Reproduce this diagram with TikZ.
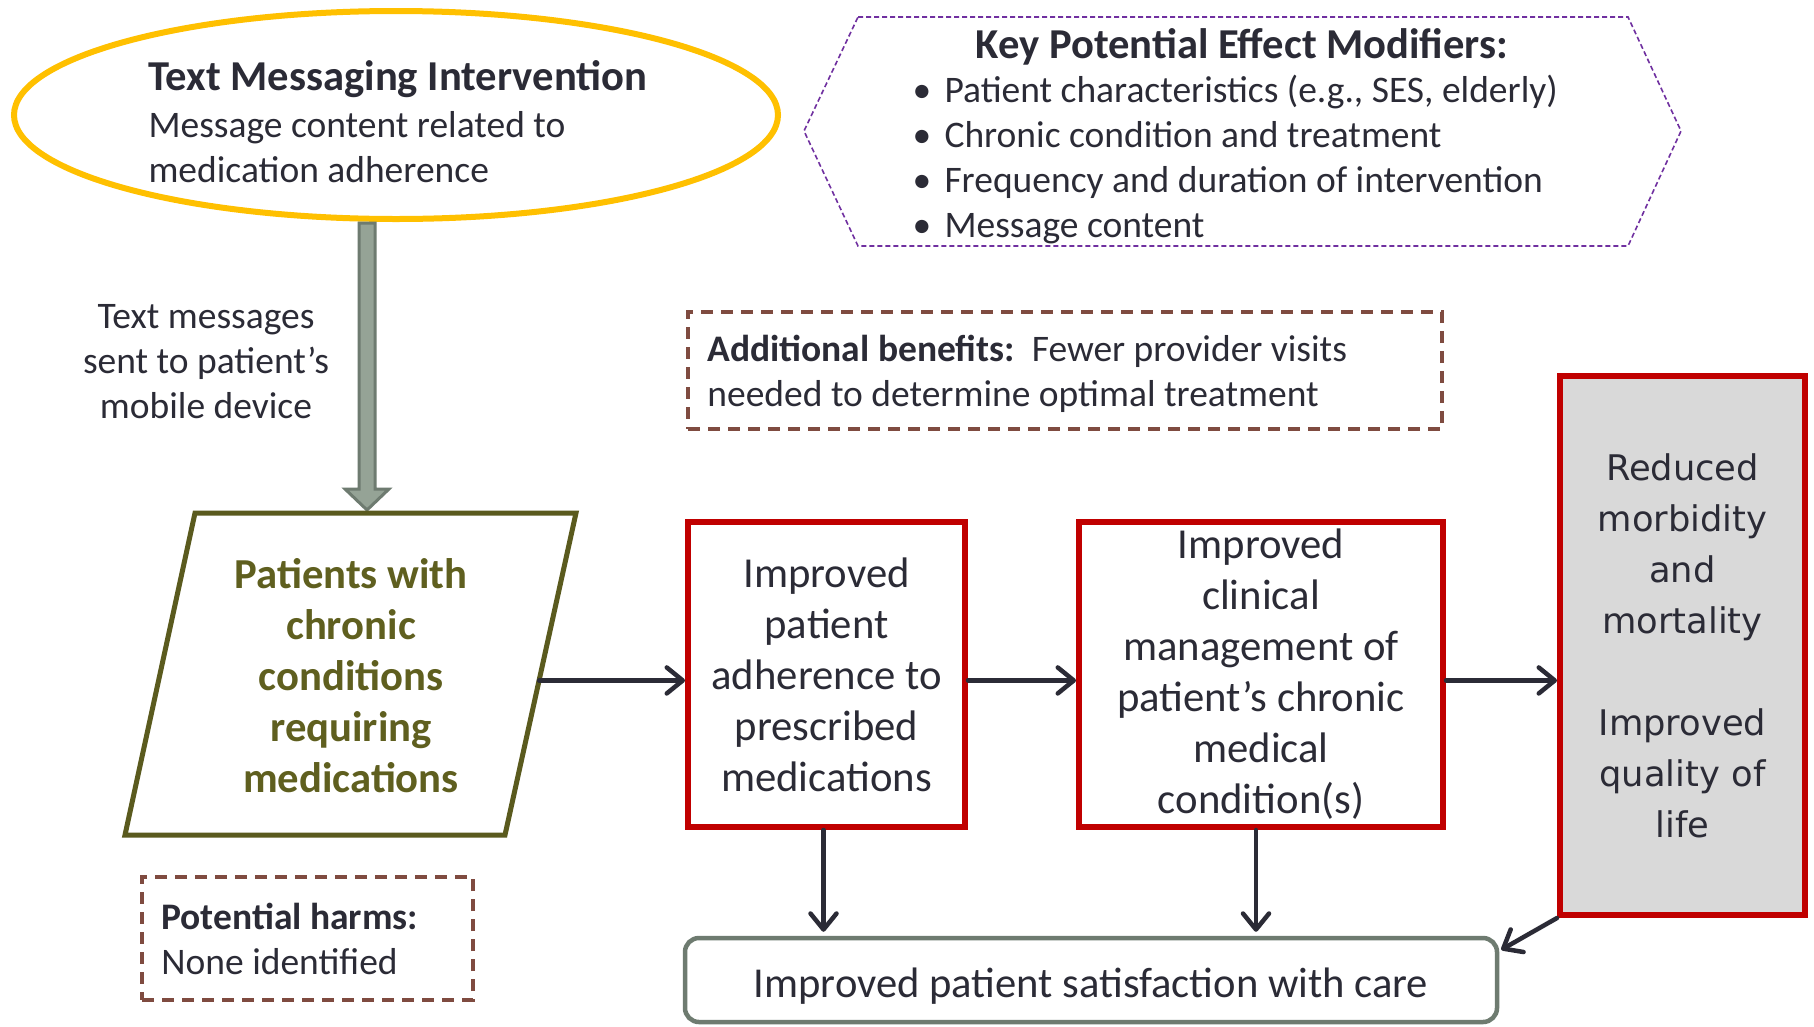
\documentclass[tikz,border=0pt]{standalone}
\usepackage{fontspec}
\setmainfont{Carlito}
\newfontfamily\dejavu{DejaVu Sans}
\usetikzlibrary{arrows.meta,shapes.geometric,calc}
\definecolor{txt}{HTML}{2B2B36}
\definecolor{redc}{HTML}{C00000}
\definecolor{yel}{HTML}{FFC000}
\definecolor{olive}{HTML}{5A5A1E}
\definecolor{olivetxt}{HTML}{5F5F1F}
\definecolor{purp}{HTML}{7030A0}
\definecolor{brown}{HTML}{7F4B40}
\definecolor{sage}{HTML}{6E7B70}
\definecolor{sagefill}{HTML}{95A396}
\definecolor{greyfill}{HTML}{D9D9D9}
\begin{document}
\begin{tikzpicture}[x=1pt,y=-1pt,
  flow/.style={draw=txt, line width=4.5pt, line cap=round, -{Straight Barb[length=16pt,width=26pt,line width=4.5pt,round]}},
  redbox/.style={draw=redc, line width=6pt, inner sep=0pt, align=center, text=txt},
  dashbox/.style={draw=brown, line width=3.5pt, dash pattern=on 12pt off 8pt, inner sep=0pt},
  plain/.style={text=txt, font=\fontsize{37.5}{45}\selectfont},
  big/.style={font=\fontsize{42.7}{51}\selectfont}]
\useasboundingbox[fill=white] (0,0) rectangle (1814,1026);

% intervention ellipse
\node[ellipse, draw=yel, line width=6pt, minimum width=764pt, minimum height=208pt, inner sep=0pt] (interv) at (396,115) {};
\node[plain, anchor=west, align=left] (intervtext) at (145,122)
  {{\bfseries\fontsize{42.6}{48}\selectfont Text Messaging Intervention}\\[2pt]
   Message content related to\\ medication adherence};

% thick arrow
\coordinate (ts) at (367,223);
\coordinate (te) at (367,510);
\draw[draw=sage, fill=sagefill, line width=3pt, line join=miter]
  ($(ts)+(-8,0)$) -- ($(ts)+(8,0)$) -- ($(te)+(8,-21)$) -- ($(te)+(22,-21)$) -- (te)
  -- ($(te)+(-22,-21)$) -- ($(te)+(-8,-21)$) -- cycle;
\node[plain, align=center] (sent) at (206,362) {Text messages\\ sent to patient’s\\ mobile device};

% modifiers hexagon
\coordinate (h1) at (858,17);
\coordinate (h2) at (1628,17);
\coordinate (h3) at (1681,131);
\coordinate (h4) at (1628,246);
\coordinate (h5) at (858,246);
\coordinate (h6) at (804,131);
\draw[draw=purp, line width=1.6pt, dash pattern=on 5pt off 3pt] (h1) -- (h2) -- (h3) -- (h4) -- (h5) -- (h6) -- cycle;
\node[text=txt, font=\bfseries\fontsize{42.6}{48}\selectfont] (modtitle) at (1242,47) {Key Potential Effect Modifiers:};
\node[plain, anchor=west, align=left] (mods) at (909,160)
  {\makebox[32pt][l]{•}Patient characteristics (e.g., SES, elderly)\\
   \makebox[32pt][l]{•}Chronic condition and treatment\\
   \makebox[32pt][l]{•}Frequency and duration of intervention\\
   \makebox[32pt][l]{•}Message content};

% additional benefits
\node[dashbox, minimum width=754pt, minimum height=117pt] (ben) at (1065,370.5) {};
\node[plain, anchor=west, align=left, inner sep=0pt] (bentext) at ($(ben.west)+(21,3)$)
  {\textbf{Additional benefits:}\ \ Fewer provider visits\\ needed to determine optimal treatment};

% parallelogram
\coordinate (p1) at (195,513);
\coordinate (p2) at (576,513);
\coordinate (p3) at (505,835);
\coordinate (p4) at (125,835);
\draw[draw=olive, line width=5pt, line join=miter] (p1) -- (p2) -- (p3) -- (p4) -- cycle;
\node[text=olivetxt, font=\bfseries\fontsize{42.7}{51}\selectfont, align=center] (pat) at (351,676)
  {Patients with\\ chronic\\ conditions\\ requiring\\ medications};
\coordinate (pr) at ($(p2)!0.52!(p3)$);

% outcome boxes
\node[redbox, big, minimum width=277pt, minimum height=305pt] (adh) at (826.5,674.5)
  {Improved\\ patient\\ adherence to\\ prescribed\\ medications};
\node[redbox, big, minimum width=364pt, minimum height=305pt] (clin) at (1261,674.5)
  {Improved\\ clinical\\ management of\\ patient’s chronic\\ medical\\ condition(s)};
\node[redbox, fill=greyfill, minimum width=245pt, minimum height=539pt, font=\dejavu\fontsize{35.3}{51}\selectfont] (morb) at (1682.5,645.5)
  {Reduced\\ morbidity\\ and\\ mortality\\[51pt] Improved\\ quality of\\ life};

% satisfaction
\node[draw=sage, line width=4.5pt, rounded corners=14pt, minimum width=812pt, minimum height=84pt] (sat) at (1091,980) {};
\node[text=txt, font=\fontsize{42.6}{50}\selectfont] (sattext) at ($(sat.center)+(0,6)$)
  {Improved patient satisfaction with care};

% harms
\node[dashbox, minimum width=331pt, minimum height=123pt] (harm) at (307.5,938.5) {};
\node[plain, anchor=west, align=left, inner sep=0pt] (harmtext) at ($(harm.west)+(21,0)$)
  {\textbf{Potential harms:}\\ None identified};

% connectors
\draw[flow] (pr) -- (pr -| adh.west);
\draw[flow] (pr -| adh.east) -- (pr -| clin.west);
\draw[flow] (pr -| clin.east) -- (pr -| morb.west);
\coordinate (a1) at ($(adh.south)+(-3,0)$);
\coordinate (a2) at ($(clin.south)+(-5,0)$);
\draw[flow, shorten >=4pt] (a1) -- (a1 |- sat.north);
\draw[flow, shorten >=4pt] (a2) -- (a2 |- sat.north);
\coordinate (a3) at ($(sat.north east)+(2,14)$);
\draw[flow] (morb.south west) -- (a3);
\end{tikzpicture}
\end{document}
